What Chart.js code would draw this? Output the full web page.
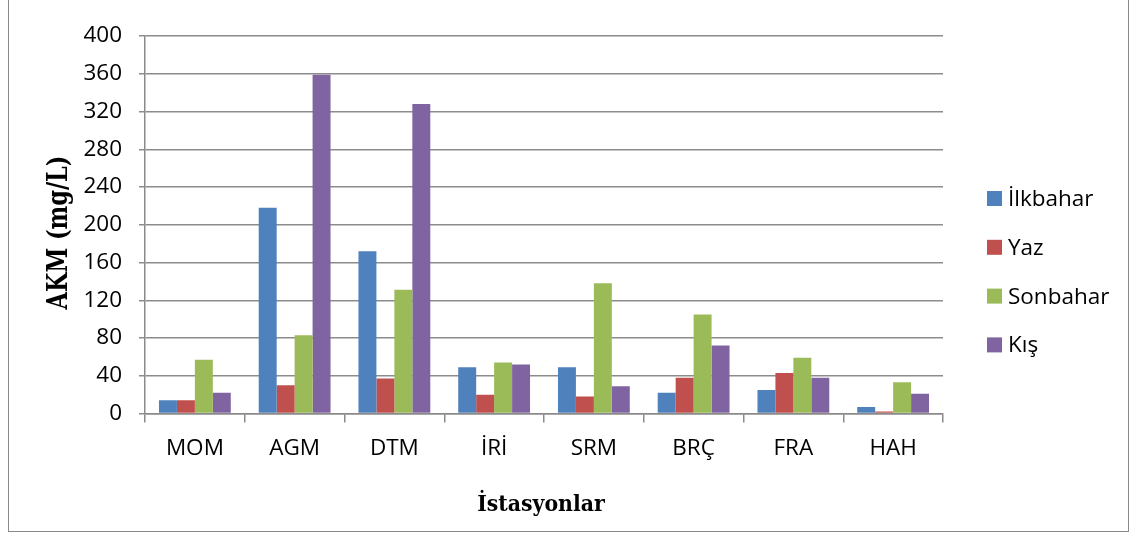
<!DOCTYPE html>
<html>
<head>
<meta charset="utf-8">
<script src="https://cdn.jsdelivr.net/npm/chart.js@4/dist/chart.umd.min.js"></script>
<style>
  body { margin: 0; background: #fff; overflow: hidden; }
  #frame { position: absolute; left: 8px; top: -1px; width: 1119px; height: 531px; border: 1px solid #8a8a8a; }
  canvas { position: absolute; left: 0; top: 0; }
</style>
</head>
<body>
<div id="frame"></div>
<canvas id="chart" width="1134" height="536"></canvas>
<script>
const stations = ['MOM', 'AGM', 'DTM', 'İRİ', 'SRM', 'BRÇ', 'FRA', 'HAH'];
const ilkbahar = [14, 218, 172, 49, 49, 22, 25, 7];
const yaz = [14, 30, 37, 20, 18, 38, 43, 2];
const sonbahar = [57, 83, 131, 54, 138, 105, 59, 33];
const kis = [22, 359, 328, 52, 29, 72, 38, 21];
const yTicks = [0, 40, 80, 120, 160, 200, 240, 280, 320, 360, 400];
const xTitle = 'İstasyonlar';
const yTitle = 'AKM (mg/L)';

// legend on the right side, one row per season
const sideLegend = {
    id: 'sideLegend',
    afterDraw(chart) {
        const c = chart.ctx;
        c.save();
        c.font = '22.5px "Open Sans"';
        c.textBaseline = 'middle';
        chart.data.datasets.forEach((ds, i) => {
            const y = 198.5 + i * 48.8;
            c.fillStyle = ds.backgroundColor;
            c.fillRect(987, y - 7.5, 15, 15);
            c.fillStyle = '#000';
            c.fillText(ds.label, 1008, y + 1);
        });
        c.restore();
    }
};

// axis titles in a wide bold serif
const axisTitles = {
    id: 'axisTitles',
    afterDraw(chart) {
        const c = chart.ctx;
        c.save();
        c.fillStyle = '#000';
        c.textAlign = 'center';
        c.textBaseline = 'alphabetic';
        c.font = 'bold 22.5px "DejaVu Serif"';
        c.translate(541, 511);
        c.scale(0.91, 1);
        c.fillText(xTitle, 0, 0);
        c.restore();

        c.save();
        c.fillStyle = '#000';
        c.textAlign = 'center';
        c.textBaseline = 'alphabetic';
        c.font = 'bold 28px "DejaVu Serif"';
        c.translate(67, 232.5);
        c.rotate(-Math.PI / 2);
        c.scale(0.8, 1);
        c.fillText(yTitle, 0, 0);
        c.restore();
    }
};

const ctx = document.getElementById('chart').getContext('2d');
new Chart(ctx, {
    type: 'bar',
    data: {
        labels: stations,
        datasets: [
            { label: 'İlkbahar', data: ilkbahar, backgroundColor: '#4F81BD' },
            { label: 'Yaz', data: yaz, backgroundColor: '#C0504D' },
            { label: 'Sonbahar', data: sonbahar, backgroundColor: '#9BBB59' },
            { label: 'Kış', data: kis, backgroundColor: '#8064A2' }
        ]
    },
    options: {
        responsive: false,
        animation: false,
        devicePixelRatio: 1,
        categoryPercentage: 0.72,
        barPercentage: 1,
        layout: { padding: { left: 0, right: 191, top: 36, bottom: 0 } },
        scales: {
            x: {
                afterFit: s => { s.height = 122.5; },
                grid: { drawOnChartArea: false, tickLength: 9, color: '#8a8a8a', lineWidth: 1.5 },
                border: { color: '#8a8a8a', width: 1.5 },
                ticks: { color: '#000', font: { family: 'Open Sans', size: 22.5 }, padding: 13 }
            },
            y: {
                min: 0,
                max: 400,
                afterFit: s => { s.width = 145; },
                afterBuildTicks: s => { s.ticks = yTicks.map(v => ({ value: v })); },
                grid: { color: '#8c8c8c', lineWidth: 1.5, tickLength: 6 },
                border: { color: '#8a8a8a', width: 1.5 },
                ticks: { color: '#000', font: { family: 'Open Sans', size: 22.5 }, padding: 17 }
            }
        },
        plugins: {
            legend: { display: false },
            tooltip: { enabled: false }
        }
    },
    plugins: [sideLegend, axisTitles]
});
</script>
</body>
</html>
